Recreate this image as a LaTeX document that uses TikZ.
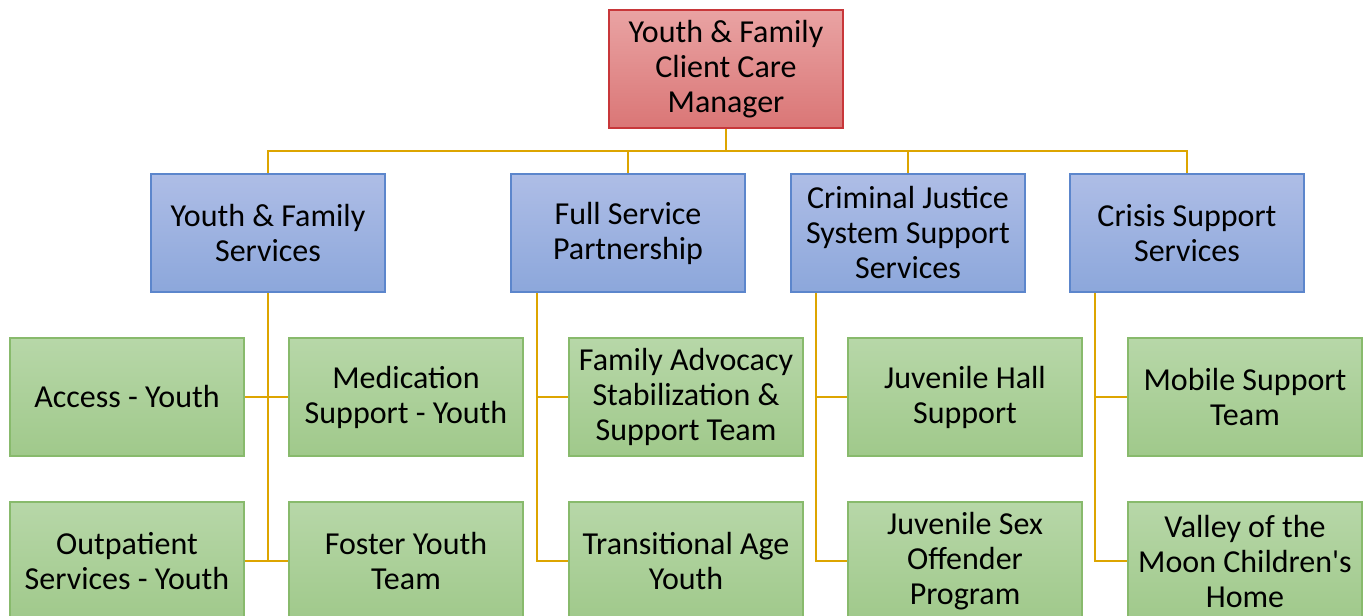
\documentclass[tikz,border=0pt]{standalone}
\usepackage{fontspec}
\setmainfont{Carlito}
\definecolor{redtop}{HTML}{E9A3A3}
\definecolor{redbot}{HTML}{DA7676}
\definecolor{redline}{HTML}{C8373A}
\definecolor{bluetop}{HTML}{AEBDE6}
\definecolor{bluebot}{HTML}{8CA7DB}
\definecolor{blueline}{HTML}{5C86CC}
\definecolor{greentop}{HTML}{B7D7A8}
\definecolor{greenbot}{HTML}{A0C98B}
\definecolor{greenline}{HTML}{88BA6C}
\definecolor{conn}{HTML}{DDA500}
\tikzset{
  box/.style={minimum width=234pt, minimum height=118pt, inner sep=0pt, align=center,
    line width=1.6pt, font=\fontsize{32}{35}\selectfont},
  redbox/.style={box, draw=redline, top color=redtop, bottom color=redbot},
  bluebox/.style={box, draw=blueline, top color=bluetop, bottom color=bluebot},
  greenbox/.style={box, draw=greenline, top color=greentop, bottom color=greenbot},
  link/.style={draw=conn, line width=2.8pt}
}
\begin{document}
\begin{tikzpicture}[x=1pt,y=-1pt]
\useasboundingbox (0,0) rectangle (1366,616);
\clip (0,0) rectangle (1366,616);
\fill[white] (0,0) rectangle (1366,616);
% top
\node[redbox] (top) at (726,69) {Youth \& Family\\Client Care\\Manager};
% level 2
\node[bluebox] (b1) at (268,233) {Youth \& Family\\Services};
\node[bluebox] (b2) at (628,233) {Full Service\\Partnership};
\node[bluebox] (b3) at (908,233) {Criminal Justice\\System Support\\Services};
\node[bluebox] (b4) at (1187,233) {Crisis Support\\Services};
% level 3
\node[greenbox] (g11) at (127,397) {Access - Youth};
\node[greenbox] (g12) at (406,397) {Medication\\Support - Youth};
\node[greenbox] (g21) at (127,561) {Outpatient\\Services - Youth};
\node[greenbox] (g22) at (406,561) {Foster Youth\\Team};
\node[greenbox] (g31) at (686,397) {Family Advocacy\\Stabilization \&\\Support Team};
\node[greenbox] (g32) at (686,561) {Transitional Age\\Youth};
\node[greenbox] (g41) at (965,397) {Juvenile Hall\\Support};
\node[greenbox] (g42) at (965,561) {Juvenile Sex\\Offender\\Program};
\node[greenbox] (g51) at (1245,397) {Mobile Support\\Team};
\node[greenbox] (g52) at (1245,561) {Valley of the\\Moon Children\textquotesingle s\\Home};
% connectors
\coordinate (bus) at (726,151);
\draw[link] (top.south) -- (bus);
\draw[link] (b1.north) |- (bus);
\draw[link] (b2.north) |- (bus);
\draw[link] (b3.north) |- (bus);
\draw[link] (b4.north) |- (bus);
% group 1
\coordinate (v1) at (b1.south |- g21.east);
\draw[link] (b1.south) -- (v1);
\draw[link] (g11.east) -- (g12.west);
\draw[link] (g21.east) -- (g22.west);
% group 2
\coordinate (v2) at (537,561);
\draw[link] (b2.south -| v2) -- (v2) -- (g32.west);
\draw[link] (v2 |- g31.west) -- (g31.west);
% group 3
\coordinate (v3) at (816,561);
\draw[link] (b3.south -| v3) -- (v3) -- (g42.west);
\draw[link] (v3 |- g41.west) -- (g41.west);
% group 4
\coordinate (v4) at (1095,561);
\draw[link] (b4.south -| v4) -- (v4) -- (g52.west);
\draw[link] (v4 |- g51.west) -- (g51.west);
\end{tikzpicture}
\end{document}
